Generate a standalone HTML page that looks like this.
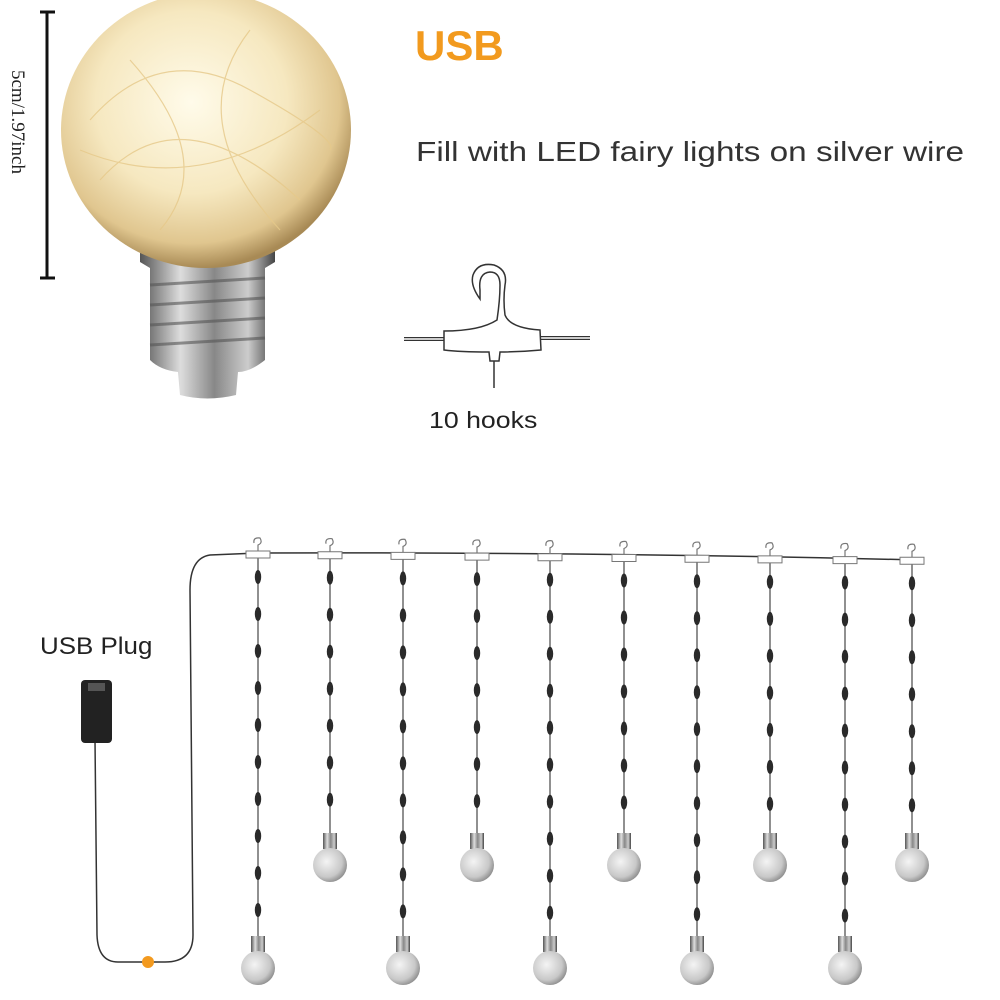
<!DOCTYPE html>
<html><head><meta charset="utf-8"><style>
html,body{margin:0;padding:0;background:#fff;}
body{width:1000px;height:1000px;position:relative;overflow:hidden;font-family:"Liberation Sans",sans-serif;}
.t{position:absolute;white-space:nowrap;transform-origin:0 0;}
</style></head><body>
<svg width="1000" height="1000" style="position:absolute;left:0;top:0">
<defs>
<radialGradient id="g" cx="45%" cy="40%" r="60%">
<stop offset="0" stop-color="#fffbea"/><stop offset="0.55" stop-color="#f6e8c0"/><stop offset="0.85" stop-color="#e0c68f"/><stop offset="1" stop-color="#a88a55"/></radialGradient>
<linearGradient id="m" x1="0" x2="1"><stop offset="0" stop-color="#555"/><stop offset="0.3" stop-color="#ddd"/><stop offset="0.55" stop-color="#888"/><stop offset="0.8" stop-color="#ccc"/><stop offset="1" stop-color="#444"/></linearGradient>
<radialGradient id="sg" cx="40%" cy="40%" r="65%"><stop offset="0" stop-color="#f4f4f4"/><stop offset="0.7" stop-color="#c8c8c8"/><stop offset="1" stop-color="#8a8a8a"/></radialGradient>
<g id="sb">
<rect x="-7" y="-32" width="14" height="16" fill="url(#m)"/>
<circle cx="0" cy="0" r="17" fill="url(#sg)"/>
</g>
</defs>
<line x1="47" y1="12" x2="47" y2="278" stroke="#111" stroke-width="3"/>
<line x1="40" y1="12" x2="55" y2="12" stroke="#111" stroke-width="3"/>
<line x1="40" y1="278" x2="55" y2="278" stroke="#111" stroke-width="3"/>
<text transform="translate(12,70) rotate(90)" font-family="Liberation Serif,serif" font-size="19" fill="#222">5cm/1.97inch</text>
<path d="M140 235 L275 235 L275 262 L265 268 L265 360 Q250 372 238 372 L236 395 Q207 402 180 395 L178 372 Q160 370 150 360 L150 268 L140 262 Z" fill="url(#m)"/>
<g stroke="#555" stroke-width="3" opacity="0.6"><line x1="150" y1="285" x2="265" y2="278"/><line x1="150" y1="305" x2="265" y2="298"/><line x1="150" y1="325" x2="265" y2="318"/><line x1="150" y1="345" x2="265" y2="338"/></g>
<ellipse cx="206" cy="130" rx="145" ry="138" fill="url(#g)"/>
<g fill="none" stroke="#e6c98a" stroke-width="1.2" opacity="0.8">
<path d="M90 120 Q160 40 250 90 T330 150"/><path d="M100 180 Q180 90 300 200"/><path d="M130 60 Q220 160 160 230"/><path d="M250 30 Q180 120 280 230"/><path d="M80 150 Q200 200 320 110"/></g>
<g fill="#fff" stroke="#333" stroke-width="1.5">
<line x1="404" y1="339" x2="445" y2="339" stroke-width="4"/>
<line x1="540" y1="338" x2="590" y2="338" stroke-width="4"/>
<line x1="404" y1="339" x2="445" y2="339" stroke="#fff" stroke-width="1.5"/>
<line x1="540" y1="338" x2="590" y2="338" stroke="#fff" stroke-width="1.5"/>
<path d="M480 299 Q470 285 473 275 Q478 262 494 265 Q508 270 505 285 Q503 300 505 315 Q510 328 540 330 L541 350 Q520 352 500 352 L499 361 L490 361 L489 352 Q460 352 444 350 L444 331 Q480 331 497 320 Q500 300 500 285 Q500 272 490 272 Q478 273 480 290 Z"/>
<line x1="494" y1="361" x2="494" y2="388"/>
</g>
<path d="M918 560 Q600 552 258 553 L210 555 Q190 558 190 590 L193 935 Q193 962 165 962 L148 962 L118 962 Q98 962 97 935 L95 740" fill="none" stroke="#333" stroke-width="1.5"/>
<circle cx="148" cy="962" r="6" fill="#f39a1f"/>
<rect x="81" y="680" width="31" height="63" rx="4" fill="#222"/>
<rect x="88" y="683" width="17" height="8" fill="#555"/>
<g id="strands"></g>
</svg>
<div class="t" style="left:415px;top:22px;font-size:42px;font-weight:bold;color:#f29a1e">USB</div>
<div class="t" style="left:416px;top:136px;font-size:28px;color:#333;transform:scaleX(1.19)">Fill with LED fairy lights on silver wire</div>
<div class="t" style="left:429px;top:407px;font-size:23px;color:#222;transform:scaleX(1.16)">10 hooks</div>
<div class="t" style="left:40px;top:633px;font-size:24px;color:#222;transform:scaleX(1.08)">USB Plug</div>
<script>
var xs=[258,330,403,477,550,624,697,770,845,912];
var s='';
xs.forEach(function(x,i){
 var top=553+i*0.7,long=(i%2==0),cy=long?968:865;
 s+='<line x1="'+x+'" y1="'+top+'" x2="'+x+'" y2="'+(cy-32)+'" stroke="#555" stroke-width="1.3"/>';
 for(var y=top+24;y<cy-40;y+=37)s+='<ellipse cx="'+x+'" cy="'+y+'" rx="3.2" ry="7" fill="#2a2a2a"/>';
 s+='<use href="#sb" x="'+x+'" y="'+cy+'"/>';
 s+='<path d="M'+(x-12)+' '+(top-2)+' L'+(x+12)+' '+(top-2)+' L'+(x+12)+' '+(top+5)+' L'+(x-12)+' '+(top+5)+' Z" fill="#fff" stroke="#777" stroke-width="1"/>';
 s+='<path d="M'+(x)+' '+(top-2)+' L'+x+' '+(top-8)+' Q'+(x+5)+' '+(top-10)+' '+(x+2)+' '+(top-15)+' Q'+(x-5)+' '+(top-16)+' '+(x-4)+' '+(top-10)+'" fill="none" stroke="#777" stroke-width="1.2"/>';
});
document.getElementById('strands').innerHTML=s;
</script>
</body></html>
